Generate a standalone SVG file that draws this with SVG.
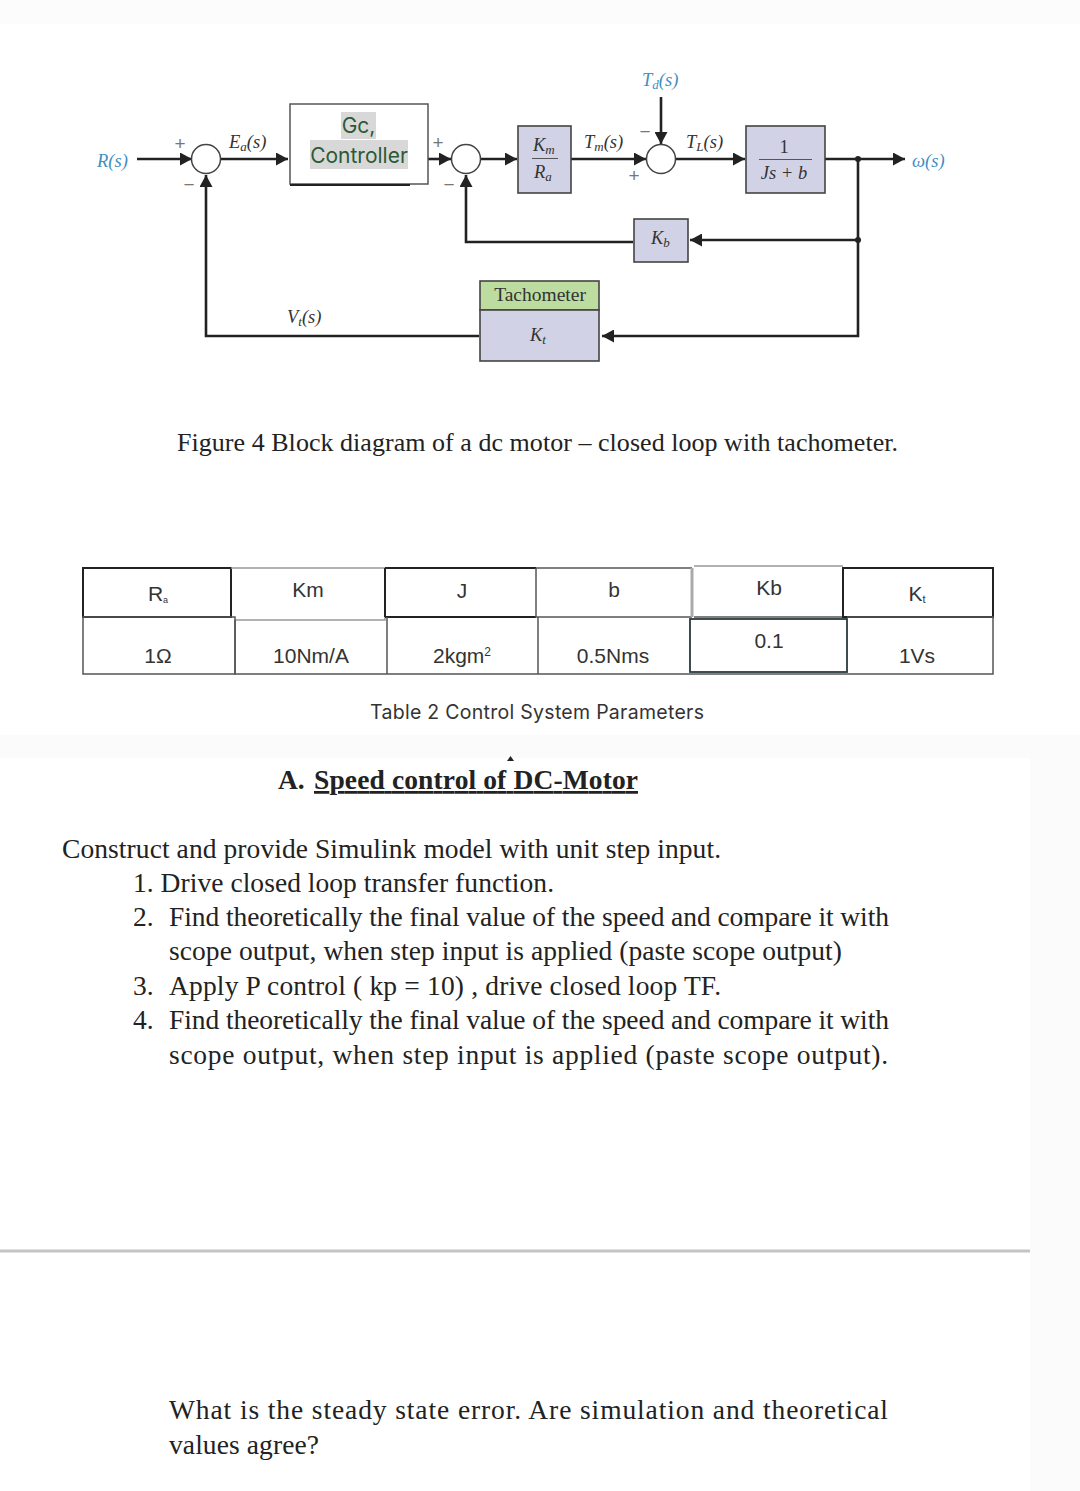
<svg xmlns="http://www.w3.org/2000/svg" width="1080" height="1491" viewBox="0 0 1080 1491">
<defs>
<marker id="arr" markerUnits="userSpaceOnUse" markerWidth="13" markerHeight="13" refX="12" refY="6.500" orient="auto"><path d="M0,0 L12,6.500 L0,13 Z" fill="#222"/></marker>
</defs>
<style>
.b{fill:#d2d2e6;stroke:#444;stroke-width:1.6}
.w{stroke:#222;stroke-width:2.6;fill:none}
.sum{fill:#fff;stroke:#444;stroke-width:1.5}
.m{font-family:"Liberation Serif",serif;font-size:18.500px;fill:#333}
.i{font-style:italic}
.blue{fill:#3f8fc0}
.sign{font-family:"Liberation Sans",sans-serif;font-size:19px;fill:#777;text-anchor:middle}
.t{font-family:"Liberation Sans",sans-serif;font-size:21px;fill:#333;text-anchor:middle}
.p{font-family:"Liberation Serif",serif;font-size:27.500px;fill:#222}
.cell{fill:none;stroke:#555;stroke-width:1.5}
.dk{fill:none;stroke:#222;stroke-width:2}
.lt{fill:none;stroke:#999;stroke-width:1.5}
</style>
<rect width="1080" height="1491" fill="#fff"/>
<rect width="1080" height="24" fill="#fcfcfc"/>
<rect y="735" width="1080" height="23" fill="#fbfbfb"/>
<rect x="1030" y="735" width="50" height="756" fill="#fbfbfb"/>
<line x1="0" y1="1251" x2="1030" y2="1251" stroke="#c4c4c4" stroke-width="3"/>

<g id="connectors">
<path class="w" d="M137,159 H192" marker-end="url(#arr)"/>
<path class="w" d="M221,159 H288" marker-end="url(#arr)"/>
<path class="w" d="M428,159 H451" marker-end="url(#arr)"/>
<path class="w" d="M480,159 H517" marker-end="url(#arr)"/>
<path class="w" d="M571,159 H646" marker-end="url(#arr)"/>
<path class="w" d="M661,97 V144" marker-end="url(#arr)"/>
<path class="w" d="M676,159 H745" marker-end="url(#arr)"/>
<path class="w" d="M825,159 H905" marker-end="url(#arr)"/>
<path class="w" d="M858,159 V336 H602" marker-end="url(#arr)"/>
<path class="w" d="M858,240 H690" marker-end="url(#arr)"/>
<path class="w" d="M633,242 H466 V175" marker-end="url(#arr)"/>
<path class="w" d="M479,336 H206 V175" marker-end="url(#arr)"/>
<circle cx="858" cy="159" r="3" fill="#222"/>
<circle cx="858" cy="240" r="3" fill="#222"/>
</g>

<g id="sum1"><circle class="sum" cx="206" cy="159" r="14.500"/></g>
<g id="sum2"><circle class="sum" cx="466" cy="159" r="14.500"/></g>
<g id="sum3"><circle class="sum" cx="661" cy="159" r="14.500"/></g>

<g id="controller">
<rect x="290" y="104" width="138" height="80" fill="#fff" stroke="#555" stroke-width="1.5"/>
<line x1="290" y1="185" x2="410" y2="185" stroke="#222" stroke-width="2"/>
<rect x="341" y="112" width="35" height="27" fill="#d8d8d8"/>
<rect x="310" y="140" width="98" height="29" fill="#d8d8d8"/>
<text x="358.500" y="133" text-anchor="middle" font-family="Inter,'Liberation Sans',sans-serif" font-size="21" fill="#2a5a34">Gc,</text>
<text x="359" y="163" text-anchor="middle" font-family="Inter,'Liberation Sans',sans-serif" font-size="21" fill="#2a5a34">Controller</text>
</g>
<g id="km-ra">
<rect class="b" x="518" y="126" width="53" height="67"/>
<text class="m i" x="533" y="151" font-size="19">K<tspan font-size="13" dy="3">m</tspan></text>
<line x1="532" y1="158.500" x2="558" y2="158.500" stroke="#555" stroke-width="1"/>
<text class="m i" x="534" y="178" font-size="19">R<tspan font-size="13" dy="3">a</tspan></text>
</g>
<g id="plant">
<rect class="b" x="746" y="126" width="79" height="67"/>
<text class="m" x="784" y="153" text-anchor="middle">1</text>
<line x1="759" y1="159.500" x2="812" y2="159.500" stroke="#555" stroke-width="1"/>
<text class="m i" x="784" y="179" text-anchor="middle">Js + b</text>
</g>
<g id="kb">
<rect class="b" x="634" y="219" width="54" height="43"/>
<text class="m i" x="651" y="244" font-size="19">K<tspan font-size="13" dy="3">b</tspan></text>
</g>
<g id="tachometer">
<rect x="480" y="281" width="119" height="29" fill="#bcdca0" stroke="#444" stroke-width="1.6"/>
<rect class="b" x="480" y="310" width="119" height="51"/>
<text x="540" y="301" text-anchor="middle" font-family="'Liberation Serif',serif" font-size="19.500" fill="#333">Tachometer</text>
<text class="m i" x="530" y="341" font-size="19">K<tspan font-size="13" dy="3">t</tspan></text>
</g>

<g id="labels">
<text class="m i blue" x="97" y="167" font-size="19">R(s)</text>
<text class="m i" x="229" y="148">E<tspan font-size="13" dy="3">a</tspan><tspan dy="-3">(s)</tspan></text>
<text class="m i" x="287" y="323">V<tspan font-size="13" dy="3">t</tspan><tspan dy="-3">(s)</tspan></text>
<text class="m i" x="584" y="148">T<tspan font-size="13" dy="3">m</tspan><tspan dy="-3">(s)</tspan></text>
<text class="m i blue" x="642" y="86">T<tspan font-size="13" dy="3">d</tspan><tspan dy="-3">(s)</tspan></text>
<text class="m i" x="686" y="148">T<tspan font-size="13" dy="3">L</tspan><tspan dy="-3">(s)</tspan></text>
<text class="m i blue" x="912" y="167">ω(s)</text>
<text class="sign" x="180" y="150">+</text>
<text class="sign" x="189" y="191">−</text>
<text class="sign" x="438" y="149">+</text>
<text class="sign" x="449" y="191">−</text>
<text class="sign" x="645" y="138">−</text>
<text class="sign" x="634" y="182">+</text>
</g>

<text x="177" y="451" font-family="'Liberation Serif',serif" font-size="26" fill="#222" textLength="721">Figure 4 Block diagram of a dc motor – closed loop with tachometer.</text>

<g id="table">
<rect class="dk" x="83" y="568" width="148" height="49"/>
<path class="lt" d="M231,568 H385 V620 H235"/>
<path class="dk" d="M385,568 H536 M385,568 V617 M385,617 H536"/>
<path class="cell" d="M536,568 H692 M536,568 V617 H692"/>
<path d="M692,568 V617" fill="none" stroke="#aaa" stroke-width="3"/>
<path class="lt" d="M694,566 H843"/>
<path class="cell" d="M694,617 H843"/>
<rect class="dk" x="843" y="568" width="150" height="49"/>
<rect class="cell" x="83" y="617" width="152" height="57"/>
<path class="cell" d="M235,620 V674 H387 V617 M387,674 H538 V617 M538,674 H690"/>
<rect x="690" y="619" width="157" height="53" fill="none" stroke="#2a3a40" stroke-width="1.800"/>
<path class="cell" d="M847,617 H993 V674 H690"/>
<text class="t" x="158" y="601">R<tspan font-size="9" dy="2">a</tspan></text>
<text class="t" x="308" y="597">Km</text>
<text class="t" x="462" y="598">J</text>
<text class="t" x="614" y="597">b</text>
<text class="t" x="769" y="595">Kb</text>
<text class="t" x="917" y="601">K<tspan font-size="11" dy="2">t</tspan></text>
<text class="t" x="158" y="663">1Ω</text>
<text class="t" x="311" y="663">10Nm/A</text>
<text class="t" x="462" y="663">2kgm<tspan font-size="12" dy="-7">2</tspan></text>
<text class="t" x="613" y="663">0.5Nms</text>
<text class="t" x="769" y="648">0.1</text>
<text class="t" x="917" y="663">1Vs</text>
</g>
<text x="370" y="719" font-family="Inter,'Liberation Sans',sans-serif" font-size="19.500" fill="#333" textLength="334">Table 2 Control System Parameters</text>

<g id="body">
<path d="M507,761 L510.500,756 L514,761 Z" fill="#222"/>
<text x="278" y="789" font-family="'Liberation Serif',serif" font-size="27.500" font-weight="bold" fill="#222">A.</text>
<text x="314" y="789" font-family="'Liberation Serif',serif" font-size="27.500" font-weight="bold" fill="#222" textLength="324" text-decoration="underline">Speed control of DC-Motor</text>
<text class="p" x="62" y="858" textLength="659">Construct and provide Simulink model with unit step input.</text>
<text class="p" x="133" y="892" textLength="421">1. Drive closed loop transfer function.</text>
<text class="p" x="133" y="926">2.</text>
<text class="p" x="169" y="926" textLength="720">Find theoretically the final value of the speed and compare it with</text>
<text class="p" x="169" y="960" textLength="673">scope output, when step input is applied (paste scope output)</text>
<text class="p" x="133" y="995">3.</text>
<text class="p" x="169" y="995" textLength="552">Apply P control ( kp = 10) , drive closed loop TF.</text>
<text class="p" x="133" y="1029">4.</text>
<text class="p" x="169" y="1029" textLength="720">Find theoretically the final value of the speed and compare it with</text>
<text class="p" x="169" y="1064" textLength="719">scope output, when step input is applied (paste scope output).</text>
<text class="p" x="169" y="1419" textLength="719">What is the steady state error. Are simulation and theoretical</text>
<text class="p" x="169" y="1454" textLength="150">values agree?</text>
</g>
</svg>
